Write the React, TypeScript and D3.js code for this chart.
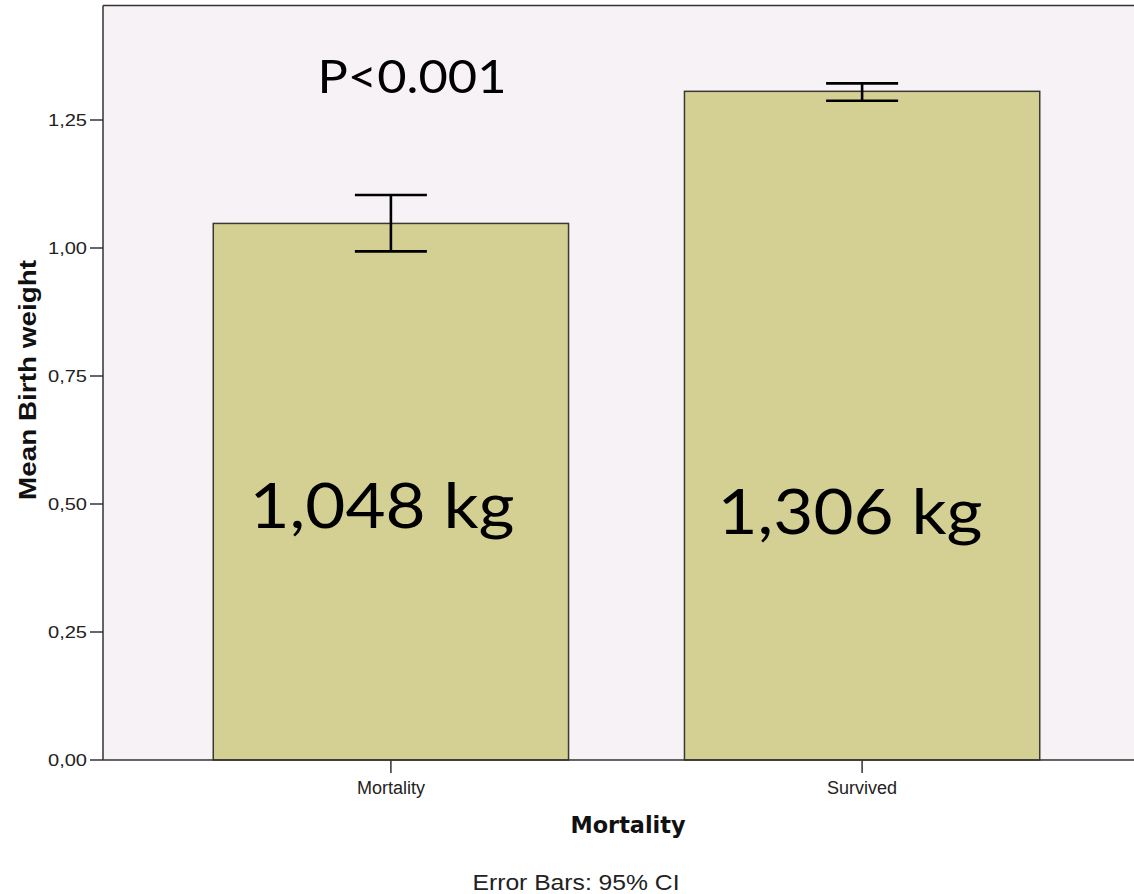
import React from "react";
import * as d3 from "d3";

const categories = ["Mortality", "Survived"];
const means = [1.048, 1.306];
const ciLower = [0.9935, 1.2877];
const ciUpper = [1.1035, 1.3216];
const barLabels = ["1,048 kg", "1,306 kg"];
const yTicks = [0, 0.25, 0.5, 0.75, 1.0, 1.25];

const W = 1134;
const H = 894;
const plotLeft = 103;
const plotRight = 1150;
const plotTop = 5.5;
const plotBottom = 760;

export default function App() {
  const x = d3
    .scaleBand<string>()
    .domain(categories)
    .range([plotLeft, plotRight])
    .paddingInner(0.246)
    .paddingOuter(0.234);
  const y = d3.scaleLinear().domain([0, 1.25]).range([plotBottom, 120]);
  const fmt = (v: number) => d3.format(".2f")(v).replace(".", ",");
  const bw = x.bandwidth();
  const capW = 72;
  const bigFont = "Lato, 'Open Sans', sans-serif";
  const axFont = "'Liberation Sans', Arial, sans-serif";

  return (
    <svg
      width={W}
      height={H}
      style={{ position: "absolute", left: 0, top: 0, background: "#fff" }}
    >
      <rect
        x={plotLeft}
        y={plotTop}
        width={plotRight - plotLeft}
        height={plotBottom - plotTop}
        fill="#f6f2f6"
      />
      {categories.map((c, i) => (
        <rect
          key={c}
          x={x(c)!}
          y={y(means[i])}
          width={bw}
          height={y(0) - y(means[i])}
          fill="#d4cf93"
          stroke="#3a3a33"
          strokeWidth={1.5}
        />
      ))}
      {categories.map((c, i) => {
        const cx = x(c)! + bw / 2;
        return (
          <g key={c + "err"} stroke="#000" strokeWidth={2.6}>
            <line x1={cx} x2={cx} y1={y(ciLower[i])} y2={y(ciUpper[i])} />
            <line x1={cx - capW / 2} x2={cx + capW / 2} y1={y(ciLower[i])} y2={y(ciLower[i])} />
            <line x1={cx - capW / 2} x2={cx + capW / 2} y1={y(ciUpper[i])} y2={y(ciUpper[i])} />
          </g>
        );
      })}
      {/* frame */}
      <line x1={plotLeft} x2={plotRight} y1={plotTop} y2={plotTop} stroke="#333" strokeWidth={1.5} />
      <line x1={plotLeft} x2={plotLeft} y1={plotTop} y2={plotBottom} stroke="#333" strokeWidth={1.5} />
      <line x1={plotLeft} x2={plotRight} y1={plotBottom} y2={plotBottom} stroke="#333" strokeWidth={1.5} />
      {/* y ticks */}
      {yTicks.map((t) => (
        <g key={t}>
          <line x1={90} x2={plotLeft} y1={y(t)} y2={y(t)} stroke="#333" strokeWidth={1.5} />
          <text
            x={87}
            y={y(t)}
            dy="0.35em"
            textAnchor="end"
            fontFamily={axFont}
            fontSize={17}
            fill="#222"
            textLength={39}
            lengthAdjust="spacingAndGlyphs"
          >
            {fmt(t)}
          </text>
        </g>
      ))}
      {/* x ticks */}
      {categories.map((c) => {
        const cx = x(c)! + bw / 2;
        return (
          <g key={c + "tick"}>
            <line x1={cx} x2={cx} y1={plotBottom} y2={773} stroke="#333" strokeWidth={1.5} />
            <text
              x={cx}
              y={794}
              textAnchor="middle"
              fontFamily={axFont}
              fontSize={18}
              fill="#222"
            >
              {c}
            </text>
          </g>
        );
      })}
      <text
        x={628}
        y={833}
        textAnchor="middle"
        fontFamily="'DejaVu Sans', Verdana, sans-serif"
        fontWeight="bold"
        fontSize={23}
        fill="#111"
        textLength={115}
        lengthAdjust="spacingAndGlyphs"
      >
        Mortality
      </text>
      <text
        x={576}
        y={890}
        textAnchor="middle"
        fontFamily={axFont}
        fontSize={22}
        fill="#222"
        textLength={207}
        lengthAdjust="spacingAndGlyphs"
      >
        Error Bars: 95% CI
      </text>
      <text
        transform={`translate(36, 380) rotate(-90)`}
        textAnchor="middle"
        fontFamily={axFont}
        fontWeight="bold"
        fontSize={23}
        fill="#111"
        textLength={240}
        lengthAdjust="spacingAndGlyphs"
      >
        Mean Birth weight
      </text>
      {/* annotations */}
      <text
        x={412}
        y={93}
        textAnchor="middle"
        fontFamily={bigFont}
        fontSize={46}
        fill="#000"
        textLength={189}
        lengthAdjust="spacingAndGlyphs"
      >
        P&lt;0.001
      </text>
      {categories.map((c, i) => (
        <text
          key={c + "lbl"}
          x={i === 0 ? 382 : 850}
          y={i === 0 ? 528 : 534}
          textAnchor="middle"
          fontFamily={bigFont}
          fontSize={62}
          fill="#000"
          textLength={265}
          lengthAdjust="spacingAndGlyphs"
        >
          {barLabels[i]}
        </text>
      ))}
    </svg>
  );
}
